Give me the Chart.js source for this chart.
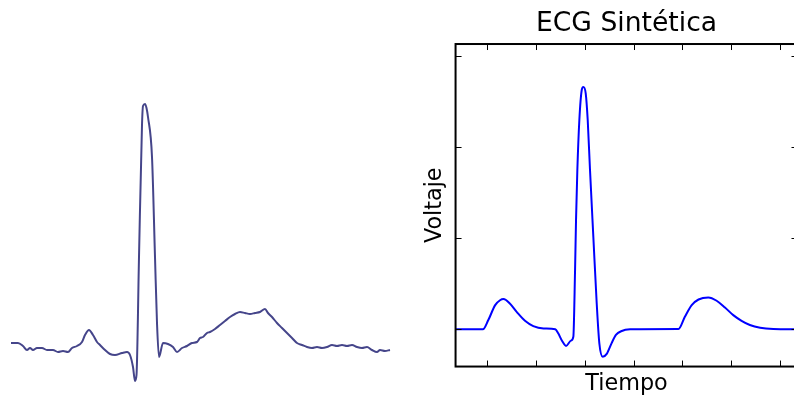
<!DOCTYPE html>
<html>
<head>
<meta charset="utf-8">
<script src="https://cdn.jsdelivr.net/npm/chart.js@4"></script>
<style>
    html, body { margin: 0; padding: 0; background: #fff; width: 794px; height: 396px; overflow: hidden; }
    .zone { position: absolute; }
    #zoneReel { left: 0px; top: 90px; width: 400px; height: 305px; }
    #zoneSynth { left: 410px; top: 0px; width: 390px; height: 400px; }
</style>
</head>
<body>
<div class="zone" id="zoneReel"><canvas id="graphiqueReel"></canvas></div>
<div class="zone" id="zoneSynth"><canvas id="graphiqueSynth"></canvas></div>
<script>
// ECG réel (trace bruitée, à gauche)
const leftTime = [0, 7, 12, 16, 19, 22, 26, 31, 36, 42, 47, 52, 57, 61, 66, 71, 74, 78, 82, 86,
    89, 94, 99, 104, 111, 116, 119, 122, 124, 125.5, 128, 131, 132, 134, 135.5, 137, 141, 144, 146, 148,
    152, 157, 162, 166, 171, 176, 181, 186, 189, 192, 196, 199, 204, 209, 214, 219, 224, 229, 234, 239,
    244, 249, 254, 257, 261, 266, 271, 276, 281, 286, 291, 296, 301, 306, 311, 316, 321, 326, 331, 336,
    341, 346, 351, 356, 361, 366, 369, 374, 379];
const leftVoltage = [0.02, 0.02, -0.01, -0.05, -0.03, -0.05, -0.03, -0.03, -0.05, -0.05, -0.07, -0.06, -0.07, -0.03, -0.01, 0.03, 0.10, 0.15, 0.10, 0.03,
    0.00, -0.05, -0.09, -0.10, -0.08, -0.07, -0.10, -0.22, -0.36, -0.30, 0.88, 2.20, 2.39, 2.41, 2.37, 2.28, 1.88, 0.88, 0.22, -0.12,
    0.02, 0.01, -0.02, -0.07, -0.03, -0.01, 0.02, 0.03, 0.07, 0.08, 0.12, 0.13, 0.16, 0.20, 0.24, 0.28, 0.31, 0.33, 0.32, 0.31,
    0.32, 0.33, 0.36, 0.32, 0.28, 0.22, 0.17, 0.12, 0.07, 0.02, 0.00, -0.02, -0.03, -0.02, -0.03, -0.02, 0.00, -0.01, 0.00, -0.01,
    0.00, -0.02, -0.03, -0.02, -0.05, -0.07, -0.05, -0.06, -0.05];

// ECG synthétique (à droite)
const rightTime = [-0.064, -0.008, 0.003, 0.017, 0.027, 0.034, 0.047, 0.061, 0.078, 0.095,
    0.116, 0.140, 0.146, 0.154, 0.162, 0.172, 0.1769, 0.1804, 0.1824, 0.1851, 0.1892, 0.1941, 0.1973,
    0.2022, 0.2063, 0.2110, 0.2178, 0.2247, 0.2301, 0.2370, 0.2452,
    0.255, 0.264, 0.276, 0.293, 0.313, 0.392, 0.405, 0.419, 0.433, 0.453,
    0.470, 0.487, 0.504, 0.521, 0.538, 0.559, 0.586, 0.635];
const rightVoltage = [0, 0, 0.051, 0.133, 0.160, 0.166, 0.142, 0.096, 0.047, 0.018,
    0.005, 0, -0.022, -0.064, -0.091, -0.062, -0.041, 0.324, 0.600, 0.875, 1.150, 1.315, 1.332,
    1.297, 1.150, 0.875, 0.509, 0.143, -0.077, -0.151, -0.135,
    -0.077, -0.031, -0.009, 0, 0.001, 0.002, 0.069, 0.133, 0.164, 0.175,
    0.157, 0.120, 0.078, 0.047, 0.024, 0.009, 0.002, 0];

const xTicks = [0, 0.1, 0.2, 0.3, 0.4, 0.5, 0.6];
const yTicks = [0, 0.5, 1.0, 1.5];

Chart.defaults.font.family = "'DejaVu Sans', sans-serif";
Chart.defaults.color = '#000';
Chart.defaults.animation = false;
Chart.defaults.elements.point.radius = 0;

function points(xs, ys) {
    let res = [];
    for (let i = 0; i < xs.length; i++) res.push({ x: xs[i], y: ys[i] });
    return res;
}

// Cadre noir + graduations vers l'intérieur (style matplotlib)
const cadre = {
    id: 'cadre',
    afterDatasetsDraw(chart) {
        let ctx = chart.ctx, a = chart.chartArea;
        let sx = chart.scales.x, sy = chart.scales.y;
        let long = 6;
        ctx.save();
        ctx.strokeStyle = '#000';
        ctx.lineWidth = 1;
        ctx.beginPath();
        xTicks.forEach(function (v) {
            let px = Math.round(sx.getPixelForValue(v)) + 0.5;
            ctx.moveTo(px, a.bottom); ctx.lineTo(px, a.bottom - long);
            ctx.moveTo(px, a.top); ctx.lineTo(px, a.top + long);
        });
        yTicks.forEach(function (v) {
            let py = Math.round(sy.getPixelForValue(v)) + 0.5;
            ctx.moveTo(a.left, py); ctx.lineTo(a.left + long, py);
            ctx.moveTo(a.right, py); ctx.lineTo(a.right - long, py);
        });
        ctx.stroke();
        ctx.lineWidth = 2;
        ctx.strokeRect(a.left, a.top, a.right - a.left, a.bottom - a.top);
        ctx.restore();
    }
};

// Graphique de gauche : sans axes
new Chart(document.getElementById('graphiqueReel'), {
    type: 'line',
    data: {
        datasets: [{
            data: points(leftTime, leftVoltage),
            borderColor: '#45458a', borderWidth: 2,
            cubicInterpolationMode: 'monotone', clip: false
        }]
    },
    options: {
        responsive: true, maintainAspectRatio: false,
        layout: { padding: { left: 11, right: 10, top: 10, bottom: 10 } },
        plugins: { legend: { display: false }, tooltip: { enabled: false } },
        scales: {
            x: { type: 'linear', min: 0, max: 379, display: false },
            y: { min: -0.40, max: 2.45, display: false }
        }
    }
});

// Graphique de droite : ECG Sintética
let axeCache = { ticks: { display: false }, grid: { display: false, drawTicks: false }, border: { display: false } };

new Chart(document.getElementById('graphiqueSynth'), {
    type: 'line',
    data: {
        datasets: [{
            data: points(rightTime, rightVoltage),
            borderColor: '#0000ff', borderWidth: 2,
            cubicInterpolationMode: 'monotone'
        }]
    },
    options: {
        responsive: true, maintainAspectRatio: false,
        layout: { padding: { right: 2.5 } },
        plugins: {
            legend: { display: false }, tooltip: { enabled: false },
            title: {
                display: true, text: 'ECG Sintética', fullSize: false, color: '#000',
                font: { size: 26.6, weight: 'normal' }, padding: { top: 8.4, bottom: 3.7 }
            }
        },
        scales: {
            x: Object.assign({}, axeCache, {
                type: 'linear', min: -0.064, max: 0.6354,
                title: { display: true, text: 'Tiempo', color: '#000', font: { size: 22.3 }, padding: { top: 4.2, bottom: 2.5 } }
            }),
            y: Object.assign({}, axeCache, {
                min: -0.2044, max: 1.5676,
                title: { display: true, text: 'Voltaje', color: '#000', font: { size: 22.3 }, padding: { top: 11.5, bottom: 7.3 } }
            })
        }
    },
    plugins: [cadre]
});
</script>
</body>
</html>
